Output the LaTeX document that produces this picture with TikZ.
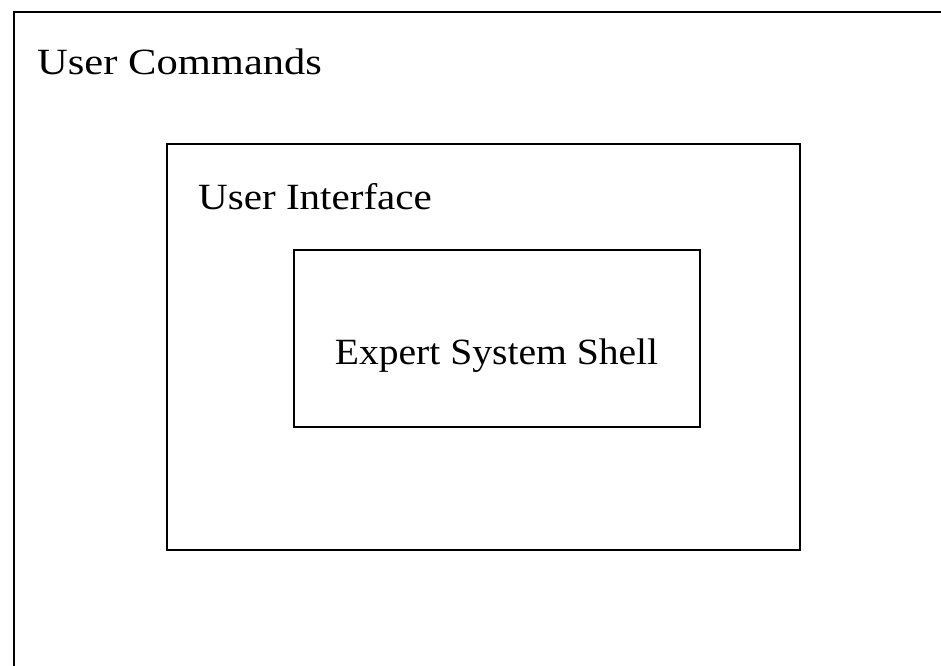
\documentclass[tikz,border=0pt]{standalone}
\usepackage{fontspec}
\setmainfont{Liberation Serif}
\tikzset{
  frame/.style={draw=black, line width=2.2pt},
  layer/.style={frame, rectangle, inner sep=0pt},
  caption/.style={inner sep=0pt, font=\fontsize{37}{42}\selectfont},
}
% horizontally widened label text
\newcommand{\widetext}[2][1.12]{\scalebox{#1}[1]{#2}}
\begin{document}
\begin{tikzpicture}[x=1pt, y=1pt]
  \useasboundingbox (0,0) rectangle (941,-665);
  % outermost layer: only its left and top sides are visible
  \coordinate (outerBL) at (14,-670);
  \coordinate (outerTR) at (946,-12);
  \draw[frame] (outerBL) |- (outerTR);
  \node[caption, anchor=base west] (cmds) at (37,-74) {\widetext[1.15]{User Commands}};
  % middle layer
  \node[layer, minimum width=633pt, minimum height=406pt] (ui) at (483.5,-347) {};
  \node[caption, anchor=base west] (uilabel) at (198,-209) {\widetext[1.11]{User Interface}};
  % innermost layer
  \node[layer, minimum width=406pt, minimum height=177pt] (shell) at (497,-338.5) {};
  \node[caption, anchor=base] (shelllabel) at (496.5,-364) {\widetext[1.07]{Expert System Shell}};
\end{tikzpicture}
\end{document}
